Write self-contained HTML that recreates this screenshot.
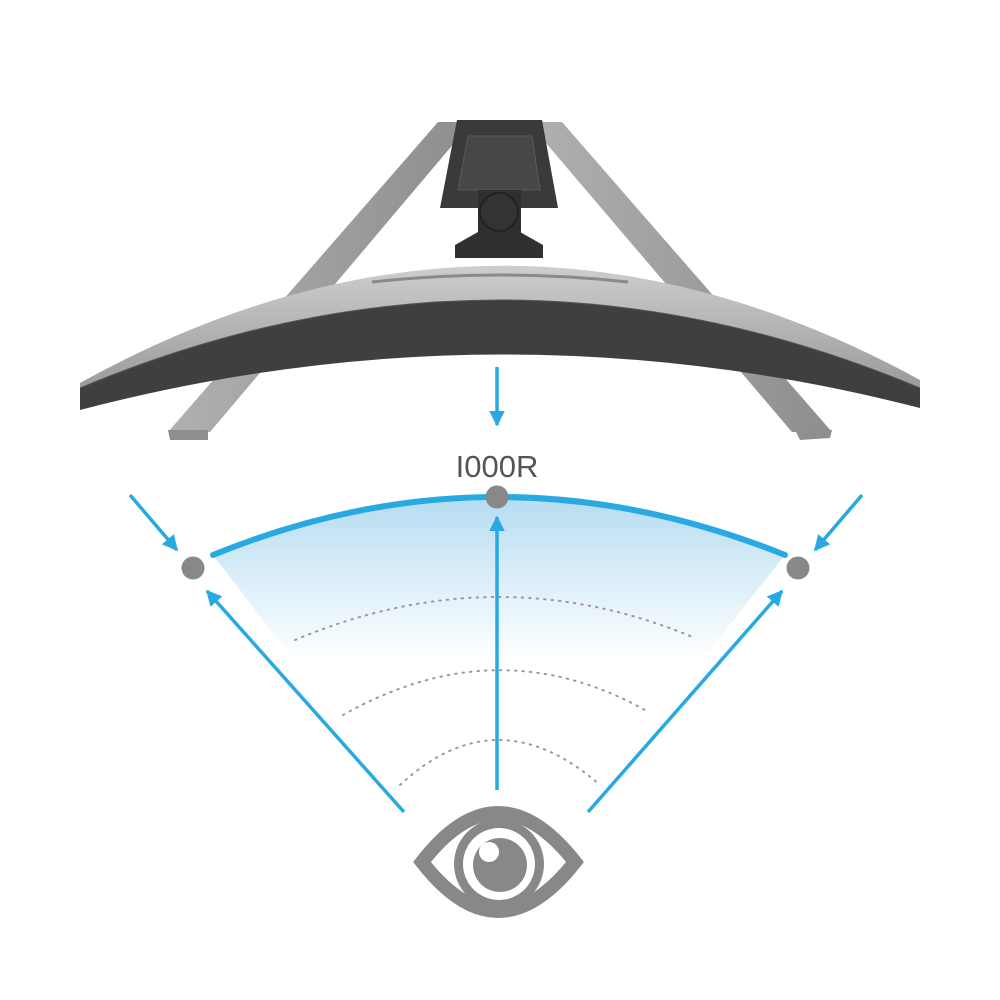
<!DOCTYPE html>
<html><head><meta charset="utf-8"><style>html,body{margin:0;padding:0;background:#fff}svg{display:block}</style></head>
<body>
<svg width="1000" height="1000" viewBox="0 0 1000 1000" xmlns="http://www.w3.org/2000/svg">
<defs>
<linearGradient id="fan" gradientUnits="userSpaceOnUse" x1="0" y1="495" x2="0" y2="660">
<stop offset="0" stop-color="#b4dcf1"/><stop offset="1" stop-color="#ffffff"/></linearGradient>
<linearGradient id="leg" x1="0" y1="0" x2="1" y2="0"><stop offset="0" stop-color="#b0b0b0"/><stop offset="1" stop-color="#8e8e8e"/></linearGradient>
<linearGradient id="body" gradientUnits="userSpaceOnUse" x1="0" y1="260" x2="0" y2="390"><stop offset="0" stop-color="#d0d0d0"/><stop offset="1" stop-color="#9a9a9a"/></linearGradient>
<marker id="ah" viewBox="0 0 10 10" refX="9" refY="5" markerWidth="4.5" markerHeight="4.5" orient="auto"><path d="M0,0 L10,5 L0,10 z" fill="#29a9e1"/></marker>
</defs>
<polygon points="438,122 472,122 210,432 168,432" fill="url(#leg)"/>
<polygon points="168,430 208,430 208,440 170,440" fill="#8f8f8f"/>
<polygon points="528,122 562,122 832,432 792,432" fill="url(#leg)"/>
<polygon points="795,430 832,430 830,438 800,440" fill="#8f8f8f"/>
<polygon points="457,120 542,120 558,208 440,208" fill="#3a3a3a"/>
<polygon points="468,136 532,136 540,190 458,190" fill="#474747" stroke="#5a5a5a"/>
<rect x="478" y="190" width="43" height="45" fill="#2f2f2f"/>
<circle cx="499" cy="212" r="19" fill="#333" stroke="#222" stroke-width="2"/>
<polygon points="478,232 520,232 543,245 543,258 455,258 455,245" fill="#303030"/>
<path d="M80,383 Q500,150 920,380 L920,388 Q500,212 80,388 Z" fill="url(#body)"/>
<path d="M80,388 Q500,212 920,388 L920,408 Q500,300 80,410 Z" fill="#3f3f3f"/>
<path d="M80,388 Q500,212 920,388" fill="none" stroke="#555" stroke-width="1"/>
<path d="M372,282 Q500,268 628,282" fill="none" stroke="#8a8a8a" stroke-width="3"/>
<path d="M213,555 Q497,439 785,555 L690,675 Q497,640 305,675 Z" fill="url(#fan)"/>
<path d="M213,555 Q497,439 785,555" fill="none" stroke="#29a9e1" stroke-width="6" stroke-linecap="round"/>
<g fill="none" stroke="#9a9a9a" stroke-width="2" stroke-dasharray="1.5 6" stroke-linecap="round">
<path d="M295,640 Q497,555 695,638"/>
<path d="M343,715 Q497,628 645,710"/>
<path d="M400,785 Q497,695 600,785"/>
</g>
<g stroke="#29a9e1" stroke-width="3.5" fill="none" marker-end="url(#ah)">
<line x1="497" y1="367" x2="497" y2="425"/>
<line x1="130" y1="495" x2="177" y2="550"/>
<line x1="862" y1="495" x2="815" y2="550"/>
<line x1="404" y1="812" x2="207" y2="591"/>
<line x1="497" y1="790" x2="497" y2="517"/>
<line x1="588" y1="812" x2="782" y2="591"/>
</g>
<circle cx="193" cy="568" r="11.5" fill="#888"/>
<circle cx="497" cy="497" r="11.5" fill="#888"/>
<circle cx="798" cy="568" r="11.5" fill="#888"/>
<text x="497" y="477" text-anchor="middle" font-family="Liberation Sans, sans-serif" font-size="31" fill="#555">I000R</text>
<path d="M422,862 Q498,764 575,862 Q498,960 422,862 Z" fill="none" stroke="#888" stroke-width="14" stroke-linejoin="miter" stroke-miterlimit="10"/>
<circle cx="499" cy="864" r="45" fill="#888"/>
<circle cx="499" cy="864" r="36" fill="#fff"/>
<circle cx="500" cy="865" r="27" fill="#888"/>
<circle cx="489" cy="852" r="10" fill="#fff"/>
</svg>
</body></html>
